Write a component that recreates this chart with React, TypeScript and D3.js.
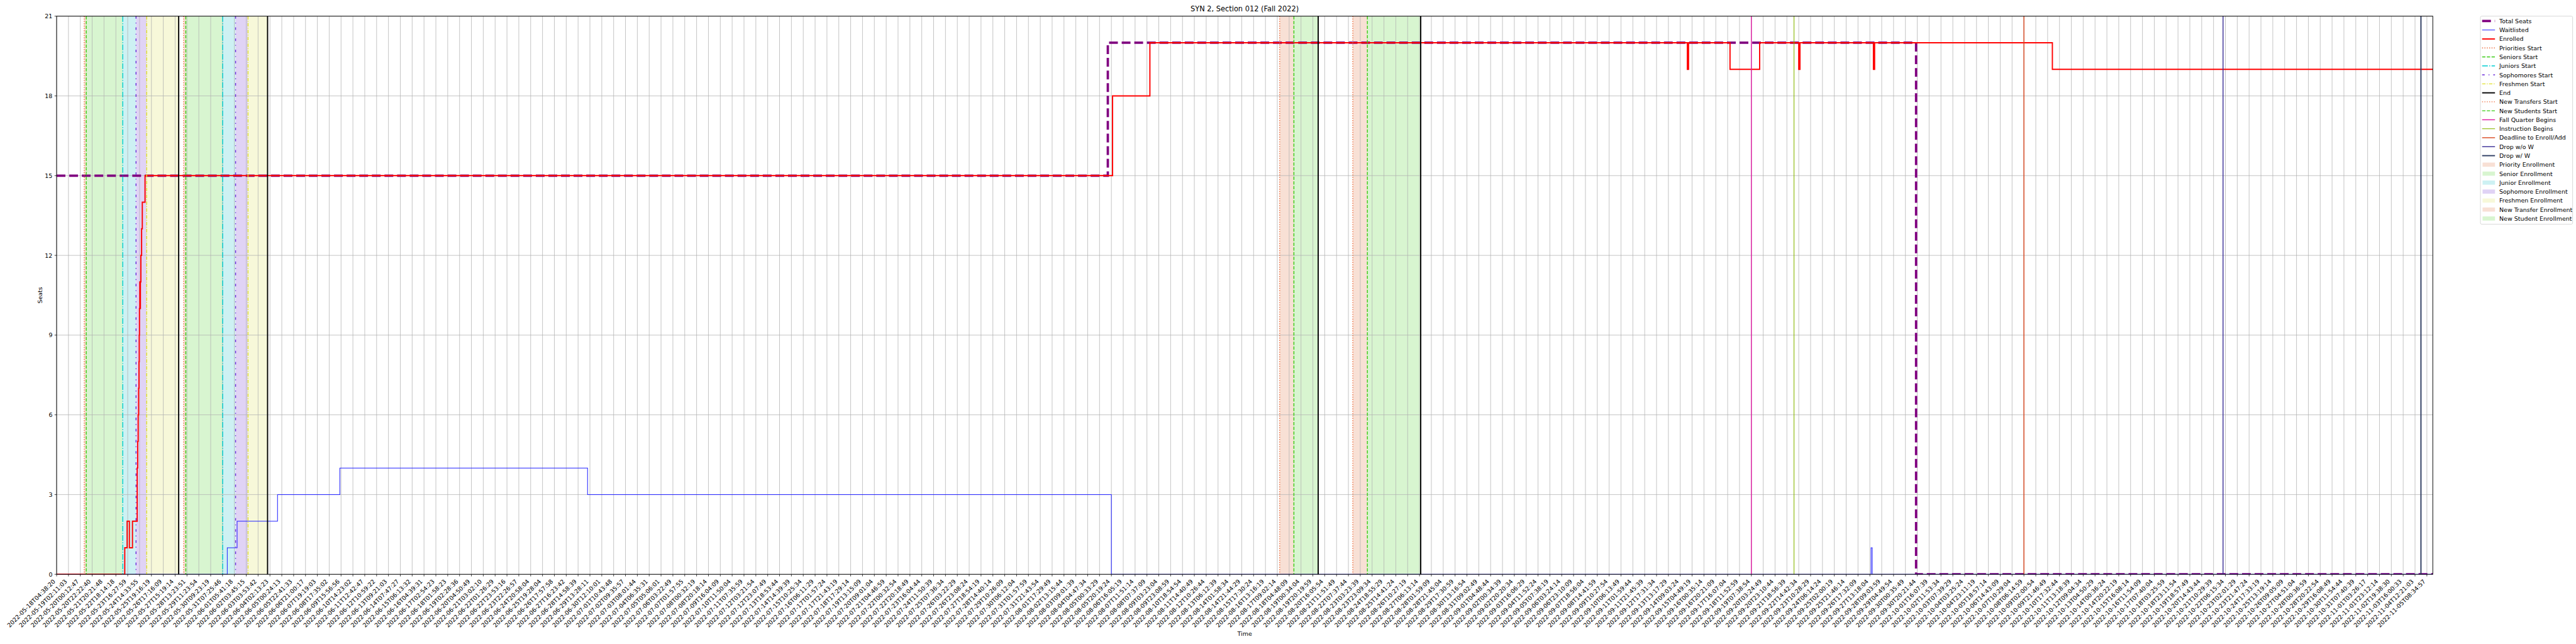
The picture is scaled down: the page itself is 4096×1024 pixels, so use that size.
import React from "react";
import * as d3 from "d3";

// ---------------- DATA ----------------
const tickLabels: string[] = [
  "2022-05-18T04:38:20","2022-05-19T02:11:03","2022-05-20T00:12:47","2022-05-20T22:22:40","2022-05-21T20:21:48",
  "2022-05-22T18:14:18","2022-05-23T16:27:59","2022-05-24T14:33:55","2022-05-25T19:16:19","2022-05-26T17:16:09",
  "2022-05-27T15:19:14","2022-05-28T13:23:51","2022-05-29T11:23:54","2022-05-30T09:23:19","2022-05-31T07:25:46",
  "2022-06-01T05:41:18","2022-06-02T03:45:15","2022-06-03T03:53:42","2022-06-04T02:13:23","2022-06-05T00:24:13",
  "2022-06-05T22:41:33","2022-06-06T21:00:17","2022-06-07T19:19:03","2022-06-08T17:35:02","2022-06-09T15:56:56",
  "2022-06-10T14:23:02","2022-06-11T12:42:47","2022-06-12T10:59:22","2022-06-13T09:21:03","2022-06-14T07:47:27",
  "2022-06-15T06:13:32","2022-06-16T04:39:31","2022-06-17T02:54:23","2022-06-18T01:58:23","2022-06-19T02:28:36",
  "2022-06-20T04:50:49","2022-06-21T03:02:10","2022-06-22T01:26:29","2022-06-22T23:53:16","2022-06-23T22:26:57",
  "2022-06-24T20:58:04","2022-06-25T19:28:04","2022-06-26T17:57:58","2022-06-27T16:23:42","2022-06-28T14:58:39",
  "2022-06-29T13:28:11","2022-06-30T12:10:01","2022-07-01T10:43:48","2022-07-02T09:35:57","2022-07-03T08:01:44",
  "2022-07-04T06:35:31","2022-07-05T05:06:01","2022-07-06T03:22:49","2022-07-07T01:57:55","2022-07-08T00:32:19",
  "2022-07-08T20:18:14","2022-07-09T16:04:09","2022-07-10T11:50:04","2022-07-11T07:35:59","2022-07-12T03:21:54",
  "2022-07-12T23:07:49","2022-07-13T18:53:44","2022-07-14T14:39:39","2022-07-15T10:25:34","2022-07-16T06:11:29",
  "2022-07-17T01:57:24","2022-07-17T21:43:19","2022-07-18T17:29:14","2022-07-19T13:15:09","2022-07-20T09:01:04",
  "2022-07-21T04:46:59","2022-07-22T00:32:54","2022-07-22T20:18:49","2022-07-23T16:04:44","2022-07-24T11:50:39",
  "2022-07-25T07:36:34","2022-07-26T03:22:29","2022-07-26T23:08:24","2022-07-27T18:54:19","2022-07-28T14:40:14",
  "2022-07-29T10:26:09","2022-07-30T06:12:04","2022-07-31T01:57:59","2022-07-31T21:43:54","2022-08-01T17:29:49",
  "2022-08-02T13:15:44","2022-08-03T09:01:39","2022-08-04T04:47:34","2022-08-05T00:33:29","2022-08-05T20:19:24",
  "2022-08-06T16:05:19","2022-08-07T11:51:14","2022-08-08T07:37:09","2022-08-09T03:23:04","2022-08-09T23:08:59",
  "2022-08-10T18:54:54","2022-08-11T14:40:49","2022-08-12T10:26:44","2022-08-13T06:12:39","2022-08-14T01:58:34",
  "2022-08-14T21:44:29","2022-08-15T17:30:24","2022-08-16T13:16:19","2022-08-17T09:02:14","2022-08-18T04:48:09",
  "2022-08-19T00:34:04","2022-08-19T20:19:59","2022-08-20T16:05:54","2022-08-21T11:51:49","2022-08-22T07:37:44",
  "2022-08-23T03:23:39","2022-08-23T23:09:34","2022-08-24T18:55:29","2022-08-25T14:41:24","2022-08-26T10:27:19",
  "2022-08-27T06:13:14","2022-08-28T01:59:09","2022-08-28T21:45:04","2022-08-29T17:30:59","2022-08-30T13:16:54",
  "2022-08-31T09:02:49","2022-09-01T04:48:44","2022-09-02T00:34:39","2022-09-02T20:20:34","2022-09-03T16:06:29",
  "2022-09-04T11:52:24","2022-09-05T07:38:19","2022-09-06T03:24:14","2022-09-06T23:10:09","2022-09-07T18:56:04",
  "2022-09-08T14:41:59","2022-09-09T10:27:54","2022-09-10T06:13:49","2022-09-11T01:59:44","2022-09-11T21:45:39",
  "2022-09-12T17:31:34","2022-09-13T13:17:29","2022-09-14T09:03:24","2022-09-15T04:49:19","2022-09-16T00:35:14",
  "2022-09-16T20:21:09","2022-09-17T16:07:04","2022-09-18T11:52:59","2022-09-19T07:38:54","2022-09-20T03:24:49",
  "2022-09-20T23:10:44","2022-09-21T18:56:39","2022-09-22T14:42:34","2022-09-23T10:28:29","2022-09-24T06:14:24",
  "2022-09-25T02:00:19","2022-09-25T21:46:14","2022-09-26T17:32:09","2022-09-27T13:18:04","2022-09-28T09:03:59",
  "2022-09-29T04:49:54","2022-09-30T00:35:49","2022-09-30T20:21:44","2022-10-01T16:07:39","2022-10-02T11:53:34",
  "2022-10-03T07:39:29","2022-10-04T03:25:24","2022-10-04T23:11:19","2022-10-05T18:57:14","2022-10-06T14:43:09",
  "2022-10-07T10:29:04","2022-10-08T06:14:59","2022-10-09T02:00:54","2022-10-09T21:46:49","2022-10-10T17:32:44",
  "2022-10-11T13:18:39","2022-10-12T09:04:34","2022-10-13T04:50:29","2022-10-14T00:36:24","2022-10-14T20:22:19",
  "2022-10-15T16:08:14","2022-10-16T11:54:09","2022-10-17T07:40:04","2022-10-18T03:25:59","2022-10-18T23:11:54",
  "2022-10-19T18:57:49","2022-10-20T14:43:44","2022-10-21T10:29:39","2022-10-22T06:15:34","2022-10-23T02:01:29",
  "2022-10-23T21:47:24","2022-10-24T17:33:19","2022-10-25T13:19:14","2022-10-26T09:05:09","2022-10-27T04:51:04",
  "2022-10-28T00:36:59","2022-10-28T20:22:54","2022-10-29T16:08:49","2022-10-30T11:54:44","2022-10-31T07:40:39",
  "2022-11-01T03:26:17","2022-11-01T23:12:14","2022-11-02T19:38:30","2022-11-03T16:00:33","2022-11-04T12:21:03",
  "2022-11-05T08:34:57",
];

const xEnd = 200.5; // last data position, in tick units
const yTicks = [0, 3, 6, 9, 12, 15, 18, 21];

type Pt = [number, number];
// step series: [position in tick units, value]
const totalSeats: Pt[] = [[0, 15], [88.7, 20], [156.9, 0], [200.5, 0]];
const waitlisted: Pt[] = [
  [0, 0], [14.4, 1], [15.23, 2], [18.64, 3], [23.9, 4], [44.8, 3], [89.0, 0],
  [153.1, 1], [153.2, 0], [200.5, 0],
];
const enrolled: Pt[] = [
  [0, 0], [5.75, 1], [5.95, 2], [6.14, 1], [6.4, 2], [6.8, 4], [6.84, 5], [6.88, 6],
  [6.92, 7], [6.95, 8], [6.97, 9], [6.99, 10], [7.02, 11], [7.04, 10], [7.07, 11],
  [7.11, 12], [7.17, 13], [7.23, 14], [7.46, 15], [89.1, 18], [92.25, 20],
  [137.6, 19], [137.7, 20], [141.2, 19], [143.7, 20], [147.0, 19], [147.1, 20],
  [153.3, 19], [153.4, 20], [168.4, 19], [200.5, 19],
];

// event markers (tick units)
const prioritiesStart = [2.33, 10.72];
const seniorsStart = [2.5, 10.9];
const juniorsStart = [5.58, 14.01];
const sophomoresStart = [6.7, 15.1];
const freshmenStart = [7.6, 16.15];
const endMarks = [10.3, 17.8, 106.45, 115.1];
const newTransfersStart = [103.2, 109.37];
const newStudentsStart = [104.4, 110.6];
const fallQuarterBegins = [143.0];
const instructionBegins = [146.6];
const deadlineEnrollAdd = [166.0];
const dropWithoutW = [182.8];
const dropWithW = [199.5];

// shaded periods [start, end]
const priorityEnrollment: Pt[] = [[2.33, 2.5], [10.72, 10.9]];
const seniorEnrollment: Pt[] = [[2.5, 5.58], [10.9, 14.01]];
const juniorEnrollment: Pt[] = [[5.58, 6.7], [14.01, 15.1]];
const sophomoreEnrollment: Pt[] = [[6.7, 7.6], [15.1, 16.15]];
const freshmenEnrollment: Pt[] = [[7.6, 10.3], [16.15, 17.8]];
const newTransferEnrollment: Pt[] = [[103.2, 104.4], [109.37, 110.6]];
const newStudentEnrollment: Pt[] = [[104.4, 106.45], [110.6, 115.1]];

// ---------------- LAYOUT ----------------
const S = 0.682;
const W = 4096, H = 1024;
const L = 132, R = 5672, T = 37.7, B = 1339;
const FONT = "DejaVu Sans, sans-serif";

const C = {
  prio: "#EE6A3A", sen: "#3ACC14", jun: "#00CED1", soph: "#6B2BD9", fresh: "#E0E02A",
  end: "#000000", fall: "#DD1AA0", instr: "#88B800", dead: "#D9461E", dropwo: "#3A2E96", dropw: "#2F3D62",
  shPrio: "#F8E0D5", shSen: "#D8F5D0", shJun: "#CDF1F3", shSoph: "#E0D3F5", shFresh: "#F7F8D9",
};

type LineStyle = { color: string; width: number; dash?: number[] };
const st = {
  prio: { color: C.prio, width: 2.08, dash: [2.08, 3.43] },
  sen: { color: C.sen, width: 2.08, dash: [7.7, 3.3] },
  jun: { color: C.jun, width: 2.08, dash: [13.3, 3.3, 2.1, 3.3] },
  soph: { color: C.soph, width: 2.08, dash: [6, 9, 2, 9] },
  fresh: { color: C.fresh, width: 2.08, dash: [8, 3, 2, 3] },
  end: { color: C.end, width: 2.8 },
  fall: { color: C.fall, width: 2.08 },
  instr: { color: C.instr, width: 1.6 },
  dead: { color: C.dead, width: 2.08 },
  dropwo: { color: C.dropwo, width: 2.08 },
  dropw: { color: C.dropw, width: 2.8 },
  seats: { color: "#800080", width: 5.5, dash: [20.5, 8.9] },
  wait: { color: "#2222FF", width: 1.5 },
  enr: { color: "#FF0000", width: 2.8 },
} as Record<string, LineStyle>;

const vlines: { xs: number[]; s: LineStyle }[] = [
  { xs: prioritiesStart, s: st.prio },
  { xs: seniorsStart, s: st.sen },
  { xs: juniorsStart, s: st.jun },
  { xs: sophomoresStart, s: st.soph },
  { xs: freshmenStart, s: st.fresh },
  { xs: endMarks, s: st.end },
  { xs: newTransfersStart, s: st.prio },
  { xs: newStudentsStart, s: st.sen },
  { xs: fallQuarterBegins, s: st.fall },
  { xs: instructionBegins, s: st.instr },
  { xs: deadlineEnrollAdd, s: st.dead },
  { xs: dropWithoutW, s: st.dropwo },
  { xs: dropWithW, s: st.dropw },
];

const spans: { ranges: Pt[]; color: string }[] = [
  { ranges: priorityEnrollment, color: C.shPrio },
  { ranges: seniorEnrollment, color: C.shSen },
  { ranges: juniorEnrollment, color: C.shJun },
  { ranges: sophomoreEnrollment, color: C.shSoph },
  { ranges: freshmenEnrollment, color: C.shFresh },
  { ranges: newTransferEnrollment, color: C.shPrio },
  { ranges: newStudentEnrollment, color: C.shSen },
];

const legendItems: { label: string; line?: LineStyle; patch?: string }[] = [
  { label: "Total Seats", line: st.seats },
  { label: "Waitlisted", line: st.wait },
  { label: "Enrolled", line: st.enr },
  { label: "Priorities Start", line: st.prio },
  { label: "Seniors Start", line: st.sen },
  { label: "Juniors Start", line: st.jun },
  { label: "Sophomores Start", line: st.soph },
  { label: "Freshmen Start", line: st.fresh },
  { label: "End", line: st.end },
  { label: "New Transfers Start", line: st.prio },
  { label: "New Students Start", line: st.sen },
  { label: "Fall Quarter Begins", line: st.fall },
  { label: "Instruction Begins", line: st.instr },
  { label: "Deadline to Enroll/Add", line: st.dead },
  { label: "Drop w/o W", line: st.dropwo },
  { label: "Drop w/ W", line: st.dropw },
  { label: "Priority Enrollment", patch: C.shPrio },
  { label: "Senior Enrollment", patch: C.shSen },
  { label: "Junior Enrollment", patch: C.shJun },
  { label: "Sophomore Enrollment", patch: C.shSoph },
  { label: "Freshmen Enrollment", patch: C.shFresh },
  { label: "New Transfer Enrollment", patch: C.shPrio },
  { label: "New Student Enrollment", patch: C.shSen },
];

const dashStr = (s: LineStyle) => (s.dash ? s.dash.map((d) => d * S).join(",") : undefined);

export default function App() {
  const x = d3.scaleLinear().domain([0, xEnd]).range([L * S, R * S]);
  const y = d3.scaleLinear().domain([0, 21]).range([B * S, T * S]);
  const step = d3.line<Pt>().x((d) => x(d[0])).y((d) => y(d[1])).curve(d3.curveStepAfter);
  const fs = 13.9 * S;
  const tickIdx = d3.range(tickLabels.length);

  return (
    <div style={{ position: "absolute", left: 0, top: 0 }}>
      <svg width={W} height={H} viewBox={`0 0 ${W} ${H}`} style={{ display: "block", background: "#fff" }}>
        <defs>
          <clipPath id="plot">
            <rect x={L * S} y={T * S} width={(R - L) * S} height={(B - T) * S} />
          </clipPath>
        </defs>
        <rect x={0} y={0} width={W} height={H} fill="#fff" />
        {spans.map((sp, i) =>
          sp.ranges.map((r, j) => (
            <rect key={`s${i}-${j}`} x={x(r[0])} y={T * S} width={x(r[1]) - x(r[0])} height={(B - T) * S} fill={sp.color} />
          ))
        )}
        {tickIdx.map((i) => (
          <line key={`gx${i}`} x1={x(i)} x2={x(i)} y1={T * S} y2={B * S} stroke="#b0b0b0" strokeWidth={1.1 * S} />
        ))}
        {yTicks.map((t) => (
          <line key={`gy${t}`} x1={L * S} x2={R * S} y1={y(t)} y2={y(t)} stroke="#b0b0b0" strokeWidth={1.1 * S} />
        ))}
        <g clipPath="url(#plot)" fill="none">
          <path d={step(totalSeats) || ""} stroke={st.seats.color} strokeWidth={st.seats.width * S} strokeDasharray={dashStr(st.seats)} />
          <path d={step(waitlisted) || ""} stroke={st.wait.color} strokeWidth={st.wait.width * S} />
          <path d={step(enrolled) || ""} stroke={st.enr.color} strokeWidth={st.enr.width * S} />
          {vlines.map((v, i) =>
            v.xs.map((xv, j) => (
              <line key={`v${i}-${j}`} x1={x(xv)} x2={x(xv)} y1={T * S} y2={B * S} stroke={v.s.color}
                strokeWidth={v.s.width * S} strokeDasharray={dashStr(v.s)} />
            ))
          )}
        </g>
        <rect x={L * S} y={T * S} width={(R - L) * S} height={(B - T) * S} fill="none" stroke="#000" strokeWidth={1.4 * S} />
        {tickIdx.map((i) => (
          <g key={`xt${i}`}>
            <line x1={x(i)} x2={x(i)} y1={B * S} y2={(B + 4.86) * S} stroke="#000" strokeWidth={1.1 * S} />
            <text x={x(i) - 2.3 * S} y={1356.5 * S} transform={`rotate(-45 ${x(i) - 2.3 * S} ${1356.5 * S})`}
              textAnchor="end" fontFamily={FONT} fontSize={fs} fill="#000">{tickLabels[i]}</text>
          </g>
        ))}
        {yTicks.map((t) => (
          <g key={`yt${t}`}>
            <line x1={(L - 4.86) * S} x2={L * S} y1={y(t)} y2={y(t)} stroke="#000" strokeWidth={1.1 * S} />
            <text x={(L - 9.7) * S} y={y(t)} textAnchor="end" dominantBaseline="central" fontFamily={FONT} fontSize={fs}>{t}</text>
          </g>
        ))}
        <text x={((L + R) / 2) * S} y={27 * S} textAnchor="middle" fontFamily={FONT} fontSize={16.7 * S}>SYN 2, Section 012 (Fall 2022)</text>
        <text x={((L + R) / 2) * S} y={1477 * S} textAnchor="middle" dominantBaseline="central" fontFamily={FONT} fontSize={fs}>Time</text>
        <text x={93 * S} y={((T + B) / 2) * S} transform={`rotate(-90 ${93 * S} ${((T + B) / 2) * S})`} textAnchor="middle"
          dominantBaseline="central" fontFamily={FONT} fontSize={fs}>Seats</text>
        <rect x={5783 * S} y={T * S} width={(5998 - 5783) * S} height={(522.7 - T) * S} rx={3 * S} fill="#fff" fillOpacity={0.8}
          stroke="#cccccc" strokeWidth={1.1 * S} />
        {legendItems.map((it, i) => {
          const cy = (49 + i * 20.93) * S;
          return (
            <g key={`lg${i}`}>
              {it.line && (
                <line x1={5787 * S} x2={5817 * S} y1={cy} y2={cy} stroke={it.line.color} strokeWidth={it.line.width * S}
                  strokeDasharray={dashStr(it.line)} />
              )}
              {it.patch && (
                <rect x={5788 * S} y={cy - 4.85 * S} width={29 * S} height={9.7 * S} fill={it.patch} />
              )}
              <text x={5827 * S} y={cy} dominantBaseline="central" fontFamily={FONT} fontSize={fs}>{it.label}</text>
            </g>
          );
        })}
      </svg>
    </div>
  );
}
